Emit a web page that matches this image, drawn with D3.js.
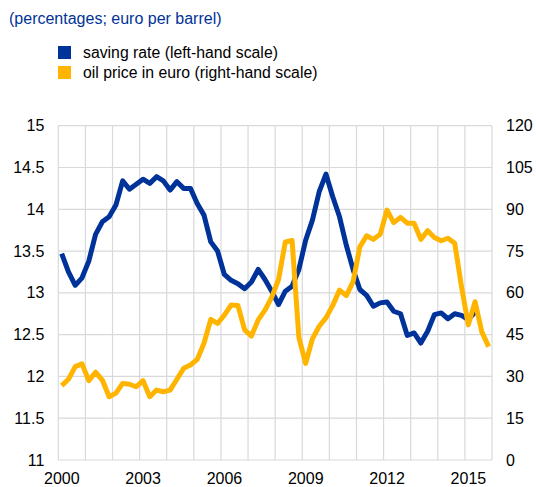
<!DOCTYPE html>
<html>
<head>
<meta charset="utf-8">
<script src="https://cdn.jsdelivr.net/npm/d3@7"></script>
<style>
  body { margin: 0; background: #fff; }
  text { font-family: "Liberation Sans", Arial, sans-serif; }
</style>
</head>
<body>
<div id="chart"></div>
<script>
var w = 536;
var h = 487;

// quarterly data, first value = 2000 Q1
var startYear = 2000;
var savingRate = [
  13.47, 13.25, 13.09, 13.18, 13.38, 13.70, 13.85, 13.91, 14.05, 14.34,
  14.24, 14.30, 14.36, 14.31, 14.39, 14.34, 14.23, 14.33, 14.25, 14.25,
  14.07, 13.93, 13.61, 13.50, 13.22, 13.15, 13.11, 13.05, 13.13, 13.28,
  13.16, 13.02, 12.86, 13.02, 13.08, 13.28, 13.63, 13.87, 14.21, 14.42,
  14.15, 13.91, 13.57, 13.28, 13.04, 12.97, 12.84, 12.88, 12.89, 12.78,
  12.75, 12.49, 12.52, 12.40, 12.54, 12.74, 12.76, 12.69, 12.75, 12.73,
  12.68, 12.77
];
var oilPrice = [
  26.7, 29.0, 33.5, 34.5, 28.5, 31.5, 28.7, 22.7, 24.0, 27.5,
  27.2, 26.3, 28.5, 22.7, 25.1, 24.5, 25.1, 29.0, 32.9, 34.1,
  36.1, 41.9, 50.5, 49.0, 52.0, 55.6, 55.5, 46.7, 44.5, 50.3,
  53.8, 58.5, 64.8, 78.3, 78.8, 44.0, 34.7, 43.5, 48.0, 51.0,
  55.5, 61.0, 59.0, 64.0, 76.5, 80.5, 79.2, 81.0, 89.7, 85.2,
  87.1, 85.0, 85.0, 79.2, 82.3, 79.9, 78.7, 79.6, 77.8, 62.2,
  48.5, 56.8, 46.0, 40.7
];

var leftTicks = [11, 11.5, 12, 12.5, 13, 13.5, 14, 14.5, 15];
var rightTicks = [0, 15, 30, 45, 60, 75, 90, 105, 120];
var xLabelYears = [2000, 2003, 2006, 2009, 2012, 2015];
var gridYears = d3.range(2000, 2017);

var seriesNames = ["saving rate (left-hand scale)", "oil price in euro (right-hand scale)"];
var seriesColors = ["#003399", "#ffb400"];

var plotLeft = 58.3, plotRight = 492, plotTop = 125.7, plotBottom = 460;

var xScale = d3.scaleLinear().domain([2000, 2016]).range([plotLeft, plotRight]);
var yLeft = d3.scaleLinear().domain([11, 15]).range([plotBottom, plotTop]);
var yRight = d3.scaleLinear().domain([0, 120]).range([plotBottom, plotTop]);

function quarterTime(i) { return startYear + (i + 0.5) / 4; }

var svg = d3.select("#chart").append("svg")
  .attr("width", w)
  .attr("height", h);

// subtitle
svg.append("text")
  .attr("x", 9)
  .attr("y", 24)
  .attr("fill", "#003399")
  .style("font-size", "16px")
  .text("(percentages; euro per barrel)");

// legend
var legend = svg.selectAll(".legend")
  .data(seriesNames)
  .enter().append("g")
  .attr("class", "legend")
  .attr("transform", function(d, i) { return "translate(58," + (46 + i * 20) + ")"; });

legend.append("rect")
  .attr("width", 13)
  .attr("height", 13)
  .attr("fill", function(d, i) { return seriesColors[i]; });

legend.append("text")
  .attr("x", 25)
  .attr("y", 11.5)
  .attr("fill", "#000")
  .style("font-size", "15.8px")
  .text(function(d) { return d; });

// gridlines
svg.append("g").selectAll("line")
  .data(gridYears)
  .enter().append("line")
  .attr("x1", function(d) { return xScale(d); })
  .attr("x2", function(d) { return xScale(d); })
  .attr("y1", plotTop)
  .attr("y2", plotBottom)
  .attr("stroke", "#d9d9d9")
  .attr("stroke-width", 1.2);

svg.append("g").selectAll("line")
  .data(leftTicks)
  .enter().append("line")
  .attr("x1", plotLeft)
  .attr("x2", plotRight)
  .attr("y1", function(d) { return yLeft(d); })
  .attr("y2", function(d) { return yLeft(d); })
  .attr("stroke", "#d9d9d9")
  .attr("stroke-width", 1.2);

// axes (labels only)
var yAxisLeft = d3.axisLeft(yLeft)
  .tickValues(leftTicks)
  .tickSize(0)
  .tickPadding(14)
  .tickFormat(function(d) { return String(d); });

var yAxisRight = d3.axisRight(yRight)
  .tickValues(rightTicks)
  .tickSize(0)
  .tickPadding(14);

var xAxis = d3.axisBottom(xScale)
  .tickValues(xLabelYears)
  .tickSize(0)
  .tickPadding(13)
  .tickFormat(d3.format("d"));

var gl = svg.append("g").attr("transform", "translate(" + plotLeft + ",0)").call(yAxisLeft);
var gr = svg.append("g").attr("transform", "translate(" + plotRight + ",0)").call(yAxisRight);
var gx = svg.append("g").attr("transform", "translate(3," + plotBottom + ")").call(xAxis);

[gl, gr, gx].forEach(function(g) {
  g.select(".domain").remove();
  g.selectAll("text")
    .attr("fill", "#000")
    .style("font-family", "'Liberation Sans', Arial, sans-serif")
    .style("font-size", "16px");
});

// lines
var lineLeft = d3.line()
  .x(function(d, i) { return xScale(quarterTime(i)); })
  .y(function(d) { return yLeft(d); });

var lineRight = d3.line()
  .x(function(d, i) { return xScale(quarterTime(i)); })
  .y(function(d) { return yRight(d); });

svg.append("path")
  .datum(savingRate)
  .attr("d", lineLeft)
  .attr("fill", "none")
  .attr("stroke", seriesColors[0])
  .attr("stroke-width", 5)
  .attr("stroke-linejoin", "round");

svg.append("path")
  .datum(oilPrice)
  .attr("d", lineRight)
  .attr("fill", "none")
  .attr("stroke", seriesColors[1])
  .attr("stroke-width", 5)
  .attr("stroke-linejoin", "round");
</script>
</body>
</html>
